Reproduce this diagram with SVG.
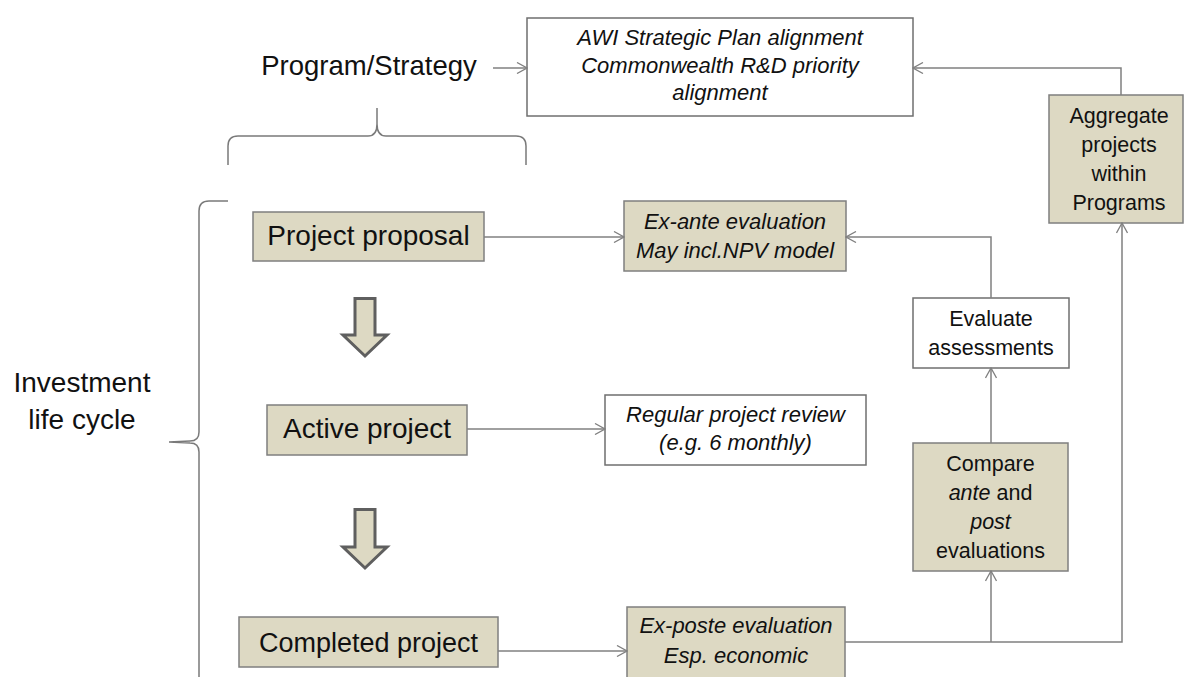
<svg xmlns="http://www.w3.org/2000/svg" width="1184" height="677" viewBox="0 0 1184 677">
<style>
.t{font-family:"Liberation Sans",Arial,sans-serif;fill:#111;text-anchor:middle}
.big{font-size:28px}
.mid{font-size:21.5px}
.it{font-size:22px;font-style:italic}
.tan{fill:#DDD9C3;stroke:#7f7f7f;stroke-width:1.5}
.wht{fill:#fff;stroke:#6f6f6f;stroke-width:1.5}
.con{fill:none;stroke:#808080;stroke-width:1.5}
.brace{fill:none;stroke:#7a7a7a;stroke-width:1.5}
.blk{fill:#DDD9C3;stroke:#5f5f5f;stroke-width:3;stroke-linejoin:miter}
</style>
<defs>
<marker id="arr" viewBox="0 0 12 12" refX="11" refY="6" markerWidth="12" markerHeight="12" markerUnits="userSpaceOnUse" orient="auto">
<path d="M1,0.5 L11,6 L1,11.5" fill="none" stroke="#808080" stroke-width="1.3"/>
</marker>
</defs>
<rect width="1184" height="677" fill="#fff"/>

<g id="program-strategy">
<text class="t" x="369" y="75" font-size="27.5">Program/Strategy</text>
</g>
<g id="brace-top">
<path class="brace" d="M228,165 L228,146 Q228,136 238,136 L368,136 Q377,136 377,124 L377,108 M377,124 Q377,136 386,136 L516,136 Q526,136 526,146 L526,165"/>
</g>
<g id="investment-life-cycle">
<text class="t big" x="82" y="392">Investment</text>
<text class="t big" x="82" y="429">life cycle</text>
</g>
<g id="brace-left">
<path class="brace" d="M228,201 L209,201 Q199,201 199,211 L199,432 Q199,441 190,441 L169,442 M169,442 L190,443 Q199,443 199,452 L199,680"/>
</g>

<g id="strategic-plan">
<rect class="wht" x="527" y="18" width="386" height="98"/>
<text class="t it" x="720" y="45">AWI Strategic Plan alignment</text>
<text class="t it" x="720" y="73">Commonwealth R&amp;D priority</text>
<text class="t it" x="720" y="100">alignment</text>
</g>

<g id="project-proposal">
<rect class="tan" x="253" y="212" width="231" height="49"/>
<text class="t big" x="368.5" y="245">Project proposal</text>
</g>
<g id="active-project">
<rect class="tan" x="267" y="405" width="200" height="50"/>
<text class="t big" x="367" y="438">Active project</text>
</g>
<g id="completed-project">
<rect class="tan" x="239" y="617" width="259" height="50"/>
<text class="t" x="368.5" y="652" font-size="27">Completed project</text>
</g>

<g id="down-arrow-1">
<path class="blk" d="M355,298.5 L375,298.5 L375,335 L387,335 L365,356 L343,335 L355,335 Z"/>
</g>
<g id="down-arrow-2">
<path class="blk" d="M355,509.5 L375,509.5 L375,547 L387,547 L365,568 L343,547 L355,547 Z"/>
</g>

<g id="ex-ante">
<rect class="tan" x="624" y="201" width="222" height="70"/>
<text class="t it" x="735" y="229">Ex-ante evaluation</text>
<text class="t it" x="735" y="258">May incl.NPV model</text>
</g>
<g id="regular-review">
<rect class="wht" x="605" y="395" width="261" height="70"/>
<text class="t it" x="735.5" y="422">Regular project review</text>
<text class="t it" x="735.5" y="450">(e.g. 6 monthly)</text>
</g>
<g id="ex-poste">
<rect class="tan" x="627" y="607" width="218" height="75"/>
<text class="t it" x="736" y="633">Ex-poste evaluation</text>
<text class="t it" x="736" y="663">Esp. economic</text>
</g>
<g id="evaluate-assessments">
<rect class="wht" x="913" y="298" width="156" height="70"/>
<text class="t mid" x="991" y="326">Evaluate</text>
<text class="t mid" x="991" y="355">assessments</text>
</g>
<g id="compare">
<rect class="tan" x="913" y="443" width="155" height="128"/>
<text class="t mid" x="990.5" y="471">Compare</text>
<text class="t mid" x="990.5" y="500"><tspan font-style="italic">ante</tspan> and</text>
<text class="t mid" x="990.5" y="529" font-style="italic">post</text>
<text class="t mid" x="990.5" y="558">evaluations</text>
</g>
<g id="aggregate">
<rect class="tan" x="1049" y="95" width="134" height="128"/>
<text class="t mid" x="1119" y="123">Aggregate</text>
<text class="t mid" x="1119" y="152">projects</text>
<text class="t mid" x="1119" y="181">within</text>
<text class="t mid" x="1119" y="210">Programs</text>
</g>

<g id="connectors">
<path class="con" d="M493,68 L527,68" marker-end="url(#arr)"/>
<path class="con" d="M484,237 L624,237" marker-end="url(#arr)"/>
<path class="con" d="M467,429 L605,429" marker-end="url(#arr)"/>
<path class="con" d="M498,651 L627,651" marker-end="url(#arr)"/>
<path class="con" d="M845,642 L1122,642 L1122,223" marker-end="url(#arr)"/>
<path class="con" d="M991,642 L991,571" marker-end="url(#arr)"/>
<path class="con" d="M991,443 L991,368" marker-end="url(#arr)"/>
<path class="con" d="M991,298 L991,237 L846,237" marker-end="url(#arr)"/>
<path class="con" d="M1121,95 L1121,68 L913,68" marker-end="url(#arr)"/>
</g>
</svg>
